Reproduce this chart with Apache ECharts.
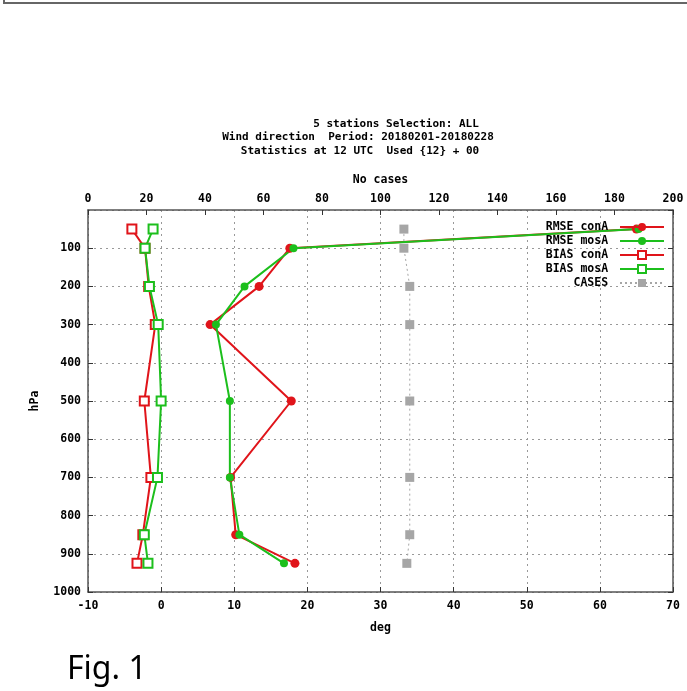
<!DOCTYPE html>
<html>
<head>
<meta charset="utf-8">
<script src="https://cdn.jsdelivr.net/npm/echarts@6/dist/echarts.min.js"></script>
<style>
html, body { margin: 0; padding: 0; background: #fff; }
#main { width: 687px; height: 691px; }
</style>
</head>
<body>
<div id="main"></div>
<script>
/* pressure levels and scores */
var levels = [50, 100, 200, 300, 500, 700, 850, 925];
var rmseConA = [65.0, 17.6, 13.4, 6.7, 17.8, 9.5, 10.2, 18.3];
var rmseMosA = [65.3, 18.1, 11.4, 7.5, 9.4, 9.4, 10.7, 16.8];
var biasConA = [-4.0, -2.2, -1.7, -0.8, -2.3, -1.4, -2.5, -3.3];
var biasMosA = [-1.1, -2.2, -1.6, -0.4, 0.0, -0.5, -2.3, -1.8];
var cases = [108, 108, 110, 110, 110, 110, 110, 109];
var titleLines = ['5 stations Selection: ALL', 'Wind direction  Period: 20180201-20180228', 'Statistics at 12 UTC  Used {12} + 00'];

var RED = '#e0141a', GREEN = '#1cbf1c', GRAY = '#a6a6a6';
var FONT = 'DejaVu Sans Mono';

function pairs(vals) {
	var out = [];
	for (var i = 0; i < levels.length; i++) out.push([vals[i], levels[i]]);
	return out;
}

var txt = { fontFamily: FONT, fontWeight: 'bold', fontSize: 11.5, color: '#000' };
var tfont = 'bold 11px ' + FONT;
function plain(v) { return String(v); }

var option = {
	animation: false,
	backgroundColor: '#fff',
	graphic: [
		{ type: 'polyline', shape: { points: [[4, 0], [4, 3], [687, 3]] }, style: { stroke: '#666', lineWidth: 2, fill: null } },
		{ type: 'text', x: 396, y: 124, style: { text: titleLines[0], font: tfont, fill: '#000', align: 'center', verticalAlign: 'middle' } },
		{ type: 'text', x: 358, y: 137, style: { text: titleLines[1], font: tfont, fill: '#000', align: 'center', verticalAlign: 'middle' } },
		{ type: 'text', x: 360, y: 151, style: { text: titleLines[2], font: tfont, fill: '#000', align: 'center', verticalAlign: 'middle' } },
		{ type: 'text', x: 67, y: 670, style: { text: 'Fig. 1', font: '32px "Noto Sans"', fill: '#000', align: 'left', verticalAlign: 'middle' } }
	],
	legend: {
		orient: 'vertical',
		right: 17,
		top: 216,
		align: 'right',
		itemWidth: 44,
		itemHeight: 10,
		itemGap: 2,
		textStyle: txt,
		formatter: function (name) { return name + ' '; },
		data: ['RMSE conA', 'RMSE mosA', 'BIAS conA', 'BIAS mosA', 'CASES']
	},
	grid: { left: 88, right: 14, top: 210, bottom: 99 },
	xAxis: [{
		type: 'value', position: 'bottom', min: -10, max: 70, interval: 10,
		name: 'deg', nameLocation: 'middle', nameGap: 30, nameTextStyle: txt,
		axisLine: { onZero: false, lineStyle: { color: '#555', width: 1.5 } },
		axisTick: { inside: true, length: 5, lineStyle: { color: '#333' } },
		axisLabel: Object.assign({ margin: 8, formatter: plain }, txt),
		splitLine: { lineStyle: { color: '#999', type: [2, 4] } }
	}, {
		type: 'value', position: 'top', min: 0, max: 200, interval: 20,
		name: 'No cases', nameLocation: 'middle', nameGap: 24, nameTextStyle: txt,
		axisLine: { onZero: false, lineStyle: { color: '#555', width: 1.5 } },
		axisTick: { inside: true, length: 5, lineStyle: { color: '#333' } },
		axisLabel: Object.assign({ margin: 5, formatter: plain }, txt),
		splitLine: { show: false }
	}],
	yAxis: [{
		type: 'value', position: 'left', inverse: true, min: 0, max: 1000, interval: 100,
		name: 'hPa', nameLocation: 'middle', nameGap: 47, nameRotate: 90, nameTextStyle: txt,
		axisLine: { show: true, onZero: false, lineStyle: { color: '#555', width: 1.5 } },
		axisTick: { show: true, inside: true, length: 5, lineStyle: { color: '#333' } },
		axisLabel: Object.assign({ margin: 7, showMinLabel: false, formatter: plain }, txt),
		splitLine: { lineStyle: { color: '#999', type: [2, 4] } }
	}, {
		type: 'value', position: 'right', inverse: true, min: 0, max: 1000, interval: 100,
		axisLine: { show: true, onZero: false, lineStyle: { color: '#555', width: 1.5 } },
		axisTick: { show: true, inside: true, length: 5, lineStyle: { color: '#333' } },
		axisLabel: { show: false },
		splitLine: { show: false }
	}],
	series: [{
		name: 'RMSE conA', type: 'line', xAxisIndex: 0, yAxisIndex: 0,
		data: pairs(rmseConA), color: RED, symbol: 'circle', symbolSize: 9,
		lineStyle: { width: 2, color: RED }, itemStyle: { color: RED }
	}, {
		name: 'RMSE mosA', type: 'line', xAxisIndex: 0, yAxisIndex: 0,
		data: pairs(rmseMosA), color: GREEN, symbol: 'circle', symbolSize: 8,
		lineStyle: { width: 2, color: GREEN }, itemStyle: { color: GREEN }
	}, {
		name: 'BIAS conA', type: 'line', xAxisIndex: 0, yAxisIndex: 0,
		data: pairs(biasConA), color: RED, symbol: 'emptyRect', symbolSize: 9,
		lineStyle: { width: 2, color: RED }, itemStyle: { color: RED, borderColor: RED, borderWidth: 2 }
	}, {
		name: 'BIAS mosA', type: 'line', xAxisIndex: 0, yAxisIndex: 0,
		data: pairs(biasMosA), color: GREEN, symbol: 'emptyRect', symbolSize: 9,
		lineStyle: { width: 2, color: GREEN }, itemStyle: { color: GREEN, borderColor: GREEN, borderWidth: 2 }
	}, {
		name: 'CASES', type: 'line', xAxisIndex: 1, yAxisIndex: 0,
		data: pairs(cases), color: GRAY, symbol: 'rect', symbolSize: 9,
		lineStyle: { width: 1, color: GRAY, type: [2, 3] }, itemStyle: { color: GRAY }
	}]
};

var chart = echarts.init(document.getElementById('main'), null, { renderer: 'canvas' });
chart.setOption(option);
</script>
</body>
</html>
